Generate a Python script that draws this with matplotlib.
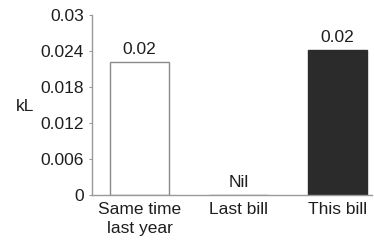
import matplotlib
matplotlib.use("Agg")
import matplotlib.pyplot as plt

categories = ["Same time\nlast year", "Last bill", "This bill"]
values = [0.0222, 0.0, 0.0242]
bar_labels = ["0.02", "Nil", "0.02"]
yticks = [0, 0.006, 0.012, 0.018, 0.024, 0.03]
ytick_labels = ["0", "0.006", "0.012", "0.018", "0.024", "0.03"]

plt.rcParams['font.family'] = ['Liberation Sans', 'DejaVu Sans']
FS = 12.5
TXT = "#1e1e1e"

fig = plt.figure(figsize=(3.74, 2.43), dpi=100)
ax = fig.add_axes([0.246, 0.197, 0.749, 0.741])

face = ["white", "white", "#2b2b2b"]
edge = ["#8a8a8a", "#8a8a8a", "#2b2b2b"]
x = range(len(categories))
ax.bar(x, values, width=0.6, color=face, edgecolor=edge, linewidth=1.0)

for xi, v, lab in zip(x, values, bar_labels):
    ax.text(xi, v + 0.0008, lab, ha="center", va="bottom", fontsize=FS, color=TXT)

ax.set_xlim(-0.48, 2.35)
ax.set_ylim(0, 0.03)
ax.set_yticks(yticks)
ax.set_yticklabels(ytick_labels)
ax.set_xticks(list(x))
ax.set_xticklabels(categories, linespacing=1.3)
ax.tick_params(axis="y", length=2.5, color="#999999", labelsize=FS, labelcolor=TXT, pad=3.5)
ax.tick_params(axis="x", length=0, labelsize=FS, labelcolor=TXT, pad=5)

for side in ["top", "right"]:
    ax.spines[side].set_visible(False)
for side in ["left", "bottom"]:
    ax.spines[side].set_color("#999999")
    ax.spines[side].set_linewidth(1.0)

fig.text(16 / 374, 1 - 106 / 243, "kL", ha="left", va="center", fontsize=FS, color=TXT)

fig.savefig("out.png", dpi=100)
